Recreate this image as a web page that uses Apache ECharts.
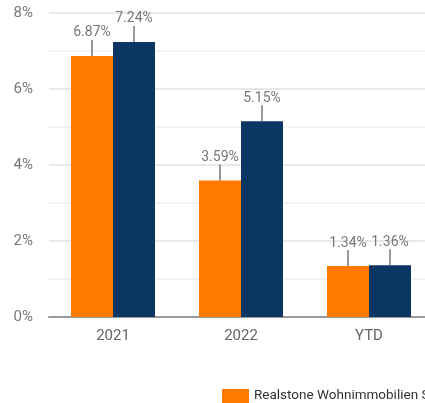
<!DOCTYPE html>
<html><head><meta charset="utf-8">
<script src="https://cdn.jsdelivr.net/npm/echarts@6/dist/echarts.min.js"></script>
<style>html,body{margin:0;padding:0;background:#fff;overflow:hidden;width:425px;height:403px}#c{width:800px;height:403px}</style>
</head><body><div id="c"></div>
<script>
var categories = ['2021', '2022', 'YTD'];
var fundName = 'Realstone Wohnimmobilien Schweiz';
var fundValues = [6.87, 3.59, 1.34];
var benchName = 'SXI Real Estate Funds Broad TR';
var benchValues = [7.24, 5.15, 1.36];
var yTicks = [0, 2, 4, 6, 8];

var chart = echarts.init(document.getElementById('c'));
function lbl() {
  return {
    show: true, position: 'top', distance: 2,
    formatter: function (p) { return p.value.toFixed(2) + '%'; },
    color: '#777', fontSize: 14, fontFamily: 'Roboto'
  };
}
chart.setOption({
  animation: false,
  textStyle: { fontFamily: 'Roboto' },
  grid: { left: 49, width: 384, top: 13, bottom: 86, containLabel: false },
  legend: {
    left: 217, top: 384, itemWidth: 27, itemHeight: 14, itemGap: 20, icon: 'rect',
    textStyle: { color: '#333', fontSize: 13.5, fontFamily: 'Roboto' }
  },
  xAxis: {
    type: 'category', data: categories,
    axisLine: { lineStyle: { color: '#999', width: 2 } },
    axisTick: { show: false },
    axisLabel: { color: '#666', fontSize: 15, margin: 12 }
  },
  yAxis: {
    type: 'value', min: yTicks[0], max: yTicks[yTicks.length - 1], interval: 2,
    axisLabel: { formatter: '{value}%', color: '#777', fontSize: 15, margin: 16 },
    axisLine: { show: false }, axisTick: { show: false },
    splitLine: { lineStyle: { color: '#e0e0e0', width: 1.5 } },
    minorTick: { show: false, splitNumber: 2 },
    minorSplitLine: { show: true, lineStyle: { color: '#f0f0f0', width: 1.5 } }
  },
  series: [
    { name: fundName, type: 'bar', data: fundValues, barWidth: 42, barGap: '0%',
      itemStyle: { color: '#ff7800' }, label: lbl(),
      labelLayout: { dy: -14 }, labelLine: { show: true, lineStyle: { color: '#999', width: 2 } } },
    { name: benchName, type: 'bar', data: benchValues, barWidth: 42, barGap: '0%',
      itemStyle: { color: '#0b3563' }, label: lbl(),
      labelLayout: { dy: -14 }, labelLine: { show: true, lineStyle: { color: '#999', width: 2 } } }
  ]
});
</script></body></html>
